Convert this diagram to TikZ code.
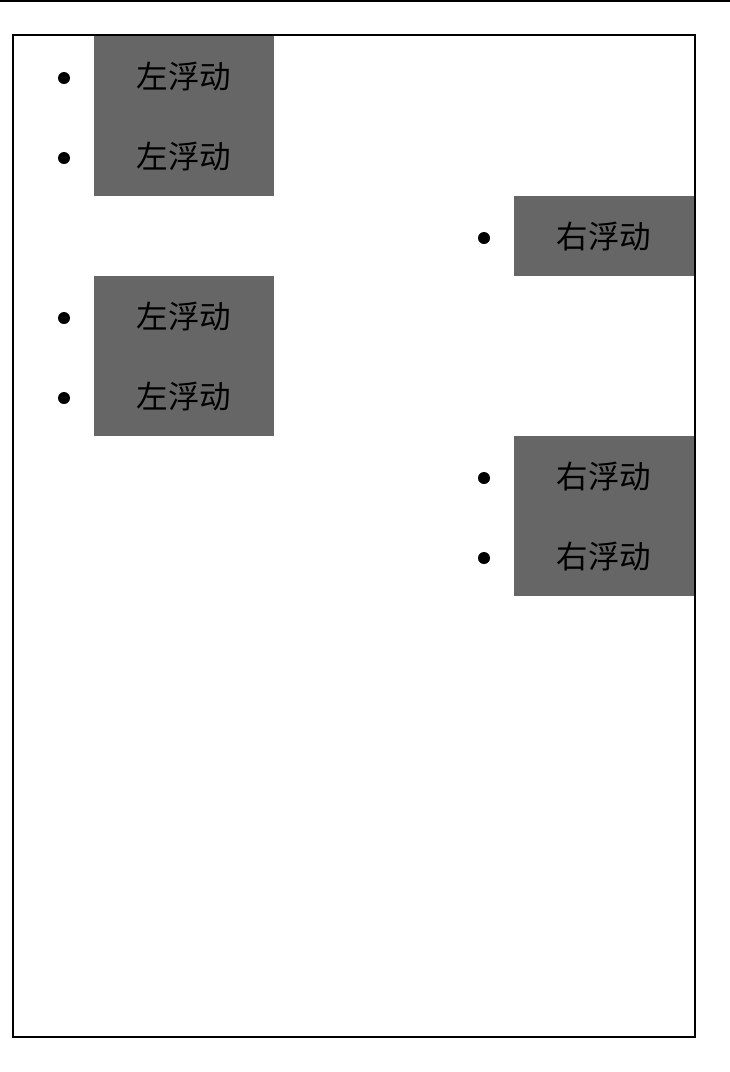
\documentclass[tikz,border=0pt]{standalone}
\usepackage{fontspec}
\newfontfamily\cjk{Noto Sans CJK SC}
\begin{document}
\begin{tikzpicture}[x=1pt,y=-1pt,
  graybox/.style={fill=boxgray,draw=none,inner sep=0pt,minimum width=180pt,minimum height=80pt,anchor=north west,font=\cjk\fontsize{31.5}{31.5}\selectfont,text=black},
  bul/.style={circle,fill=black,inner sep=0pt,minimum size=12pt}]
\definecolor{boxgray}{HTML}{666666}
\useasboundingbox (0,0) rectangle (730,1072);
\fill[white] (0,0) rectangle (730,1072);
\draw[line width=2pt] (0,1) -- (730,1);
\node[graybox] (l1) at (94,36) {左浮动};
\node[graybox] (l2) at (94,116) {左浮动};
\node[graybox] (r1) at (514,196) {右浮动};
\node[graybox] (l3) at (94,276) {左浮动};
\node[graybox] (l4) at (94,356) {左浮动};
\node[graybox] (r2) at (514,436) {右浮动};
\node[graybox] (r3) at (514,516) {右浮动};
\node[bul] (b1) at (64,78) {};
\node[bul] (b2) at (64,158) {};
\node[bul] (b3) at (484,238) {};
\node[bul] (b4) at (64,318) {};
\node[bul] (b5) at (64,398) {};
\node[bul] (b6) at (484,478) {};
\node[bul] (b7) at (484,558) {};
\draw[line width=2pt] (13,35) rectangle (695,1037);
\end{tikzpicture}
\end{document}
